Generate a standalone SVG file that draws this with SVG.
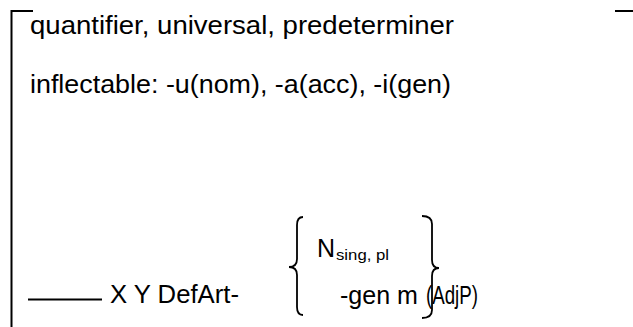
<svg xmlns="http://www.w3.org/2000/svg" width="633" height="327" viewBox="0 0 633 327">
<style>
.t{font-family:"Liberation Sans",Arial,sans-serif;font-size:25px;fill:#000}
.s{font-family:"Liberation Sans",Arial,sans-serif;font-size:14px;fill:#000}
.ln{stroke:#000;stroke-width:2;fill:none}
.br{stroke:#000;stroke-width:1.8;fill:none}
</style>
<rect width="633" height="327" fill="#fff"/>
<g id="frame">
<path class="ln" d="M11.5,327 V11 H33"/>
<path class="ln" d="M615,11 H633"/>
</g>
<g id="header">
<text class="t" x="30" y="34" textLength="424" lengthAdjust="spacingAndGlyphs">quantifier, universal, predeterminer</text>
<text class="t" x="30" y="93" textLength="421" lengthAdjust="spacingAndGlyphs">inflectable: -u(nom), -a(acc), -i(gen)</text>
</g>
<g id="formula">
<path class="ln" d="M28,299.5 H102"/>
<text class="t" x="110" y="303" textLength="129" lengthAdjust="spacingAndGlyphs">X Y DefArt-</text>
<path class="br" d="M303,217 Q297,217 297,225 L297,259 Q297,267 289,267 Q297,267 297,275 L297,307 Q297,315 303,315"/>
<text class="t" x="317" y="257">N</text>
<text class="s" x="336" y="260" textLength="53" lengthAdjust="spacingAndGlyphs">sing, pl</text>
<text class="t" x="340" y="304" textLength="78" lengthAdjust="spacingAndGlyphs">-gen m</text>
<path class="br" d="M422,216 Q432,216 432,224 L432,260 Q432,268 439,268 Q432,268 432,276 L432,310 Q432,318 422,318"/>
<text class="t" x="426" y="304" textLength="52" lengthAdjust="spacingAndGlyphs">(AdjP)</text>
</g>
</svg>
